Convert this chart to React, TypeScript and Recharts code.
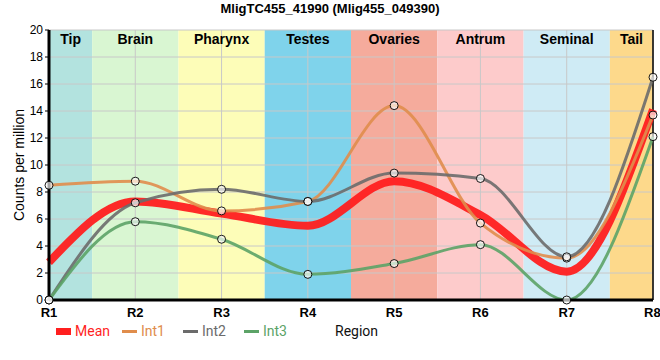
import {
  LineChart, Line, XAxis, YAxis, ReferenceArea, ReferenceLine,
} from 'recharts'

const regions = ['R1', 'R2', 'R3', 'R4', 'R5', 'R6', 'R7', 'R8']
const meanValues = [2.8, 7.3, 6.4, 5.5, 8.8, 6.3, 2.1, 14.1]
const int1Values = [8.5, 8.8, 6.6, 7.3, 14.4, 5.7, 3.1, 13.7]
const int2Values = [0, 7.2, 8.2, 7.3, 9.4, 9.0, 3.2, 16.5]
const int3Values = [0, 5.8, 4.5, 1.9, 2.7, 4.1, 0, 12.1]
const yTicks = [0, 2, 4, 6, 8, 10, 12, 14, 16, 18, 20]

// tissue bands: name, start, end (in region positions)
const bandNames = ['Tip', 'Brain', 'Pharynx', 'Testes', 'Ovaries', 'Antrum', 'Seminal', 'Tail']
const bandStarts = [1, 1.5, 2.5, 3.5, 4.5, 5.5, 6.5, 7.5]
const bandEnds = [1.5, 2.5, 3.5, 4.5, 5.5, 6.5, 7.5, 8]
const bandColors = ['#b3e3df', '#d9f6d2', '#fdfdb8', '#7fd3eb', '#f5ab9c', '#fdcbcb', '#cfebf5', '#fdd98b']

const FONT = '"Liberation Sans", Arial, sans-serif'

const series = [
  { key: 'Mean', color: '#ff1f1f', width: 8, gap: 12 },
  { key: 'Int1', color: '#e08d4c', width: 3, gap: 18 },
  { key: 'Int2', color: '#6b6b6b', width: 3, gap: 18 },
  { key: 'Int3', color: '#5ca367', width: 3, gap: 0 },
]

const data = regions.map((r, i) => ({
  x: i + 1,
  Mean: meanValues[i],
  Int1: int1Values[i],
  Int2: int2Values[i],
  Int3: int3Values[i],
}))

const dotStyle = { r: 4, stroke: '#000', strokeWidth: 1, fill: 'rgba(255,255,255,0.65)' }

function LegendRow() {
  return (
    <div style={{ position: 'absolute', left: 56, top: 321, display: 'flex', alignItems: 'center', fontFamily: 'Roboto, "Noto Sans", sans-serif', fontSize: 14, lineHeight: '20px' }}>
      {series.map((s) => (
        <div key={s.key} style={{ display: 'flex', alignItems: 'center', marginRight: s.gap }}>
          <span style={{ display: 'inline-block', width: 15, height: s.key === 'Mean' ? 7 : 3, background: s.color, marginRight: 4 }} />
          <span style={{ color: s.color }}>{s.key}</span>
        </div>
      ))}
      <span style={{ color: '#111', marginLeft: 48 }}>Region</span>
    </div>
  )
}

export default function App() {
  return (
    <div style={{ position: 'absolute', left: 0, top: 0, width: 660, height: 360, background: '#fff' }}>
      <div style={{ position: 'absolute', top: 0, left: 0, width: 660, textAlign: 'center', fontFamily: FONT, fontWeight: 'bold', fontSize: 13, lineHeight: '18px' }}>
        MligTC455_41990 (Mlig455_049390)
      </div>
      <LineChart width={660} height={360} data={data} margin={{ top: 30, right: 7, bottom: 40, left: 9 }}>
        {bandNames.map((name, i) => (
          <ReferenceArea
            key={name}
            x1={bandStarts[i]}
            x2={bandEnds[i]}
            y1={0}
            y2={20}
            fill={bandColors[i]}
            fillOpacity={1}
            stroke="none"
            ifOverflow="hidden"
            label={{ value: name, position: 'insideTop', fill: '#000', fontSize: 14, fontWeight: 'bold', fontFamily: FONT, offset: 4 }}
          />
        ))}
        {yTicks.map((t) => (
          <ReferenceLine key={'h' + t} y={t} stroke="#c8c8c8" strokeWidth={1} />
        ))}
        {regions.map((r, i) => (
          <ReferenceLine key={'v' + r} x={i + 1} stroke="#c8c8c8" strokeWidth={1} />
        ))}
        <ReferenceLine x={8} stroke="#000" strokeWidth={1.5} />
        <XAxis
          dataKey="x"
          type="number"
          domain={[1, 8]}
          ticks={[1, 2, 3, 4, 5, 6, 7, 8]}
          tickFormatter={(v: number) => regions[v - 1]}
          tick={{ fontSize: 13, fontWeight: 'bold', fill: '#000', fontFamily: FONT }}
          axisLine={{ stroke: '#000', strokeWidth: 3 }}
          tickLine={false}
          height={20}
          tickMargin={2}
        />
        <YAxis
          domain={[0, 20]}
          ticks={yTicks}
          tick={{ fontSize: 12, fill: '#000', fontFamily: FONT }}
          axisLine={{ stroke: '#000', strokeWidth: 3 }}
          tickLine={{ stroke: '#000' }}
          tickSize={4}
          width={40}
          label={{ value: 'Counts per million', angle: -90, position: 'insideLeft', offset: 10, style: { textAnchor: 'middle', fontSize: 14, fill: '#000', fontFamily: FONT } }}
        />
        {series.map((s) => (
          <Line
            key={s.key}
            type="monotone"
            dataKey={s.key}
            stroke={s.color}
            strokeWidth={s.width}
            strokeOpacity={s.key === 'Mean' ? 0.95 : 0.9}
            dot={s.key === 'Mean' ? false : dotStyle}
            activeDot={false}
            isAnimationActive={false}
          />
        ))}
      </LineChart>
      <LegendRow />
    </div>
  )
}
